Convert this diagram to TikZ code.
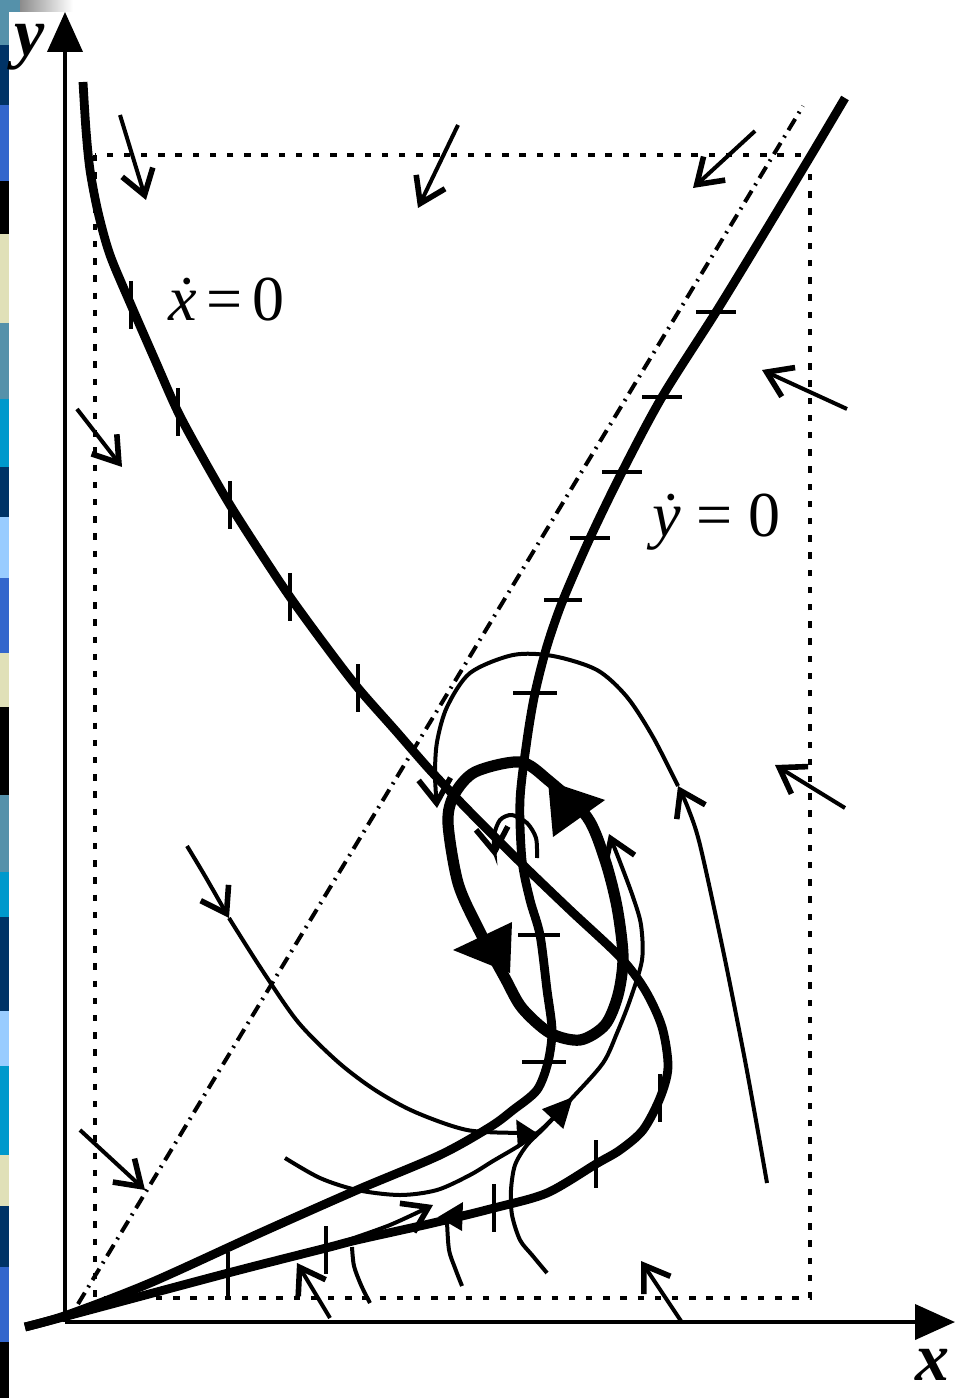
\documentclass[tikz,border=0pt]{standalone}
\usepackage{fontspec}
\setmainfont{Liberation Serif}
\usetikzlibrary{arrows.meta}
\definecolor{stripsteel}{HTML}{5591AA}
\definecolor{stripnavy}{HTML}{003366}
\definecolor{stripblue}{HTML}{3366CC}
\definecolor{stripsand}{HTML}{E0E0B8}
\definecolor{stripteal}{HTML}{0099CC}
\definecolor{stripsky}{HTML}{99CCFF}
\begin{document}
\begin{tikzpicture}[>={Straight Barb[length=6pt,width=8pt,line width=1.4pt]},
    x=0.25pt, y=-0.25pt, font=\fontsize{16}{19}\selectfont,
    nullcline/.style={line width=2.2pt, smooth},
    orbit/.style={line width=1pt, smooth},
    limitcycle/.style={line width=2.8pt, smooth cycle},
    tickline/.style={line width=1.2pt},
    field/.style={->, line width=1pt},
    axisarrow/.style={-{Triangle[length=10pt,width=8.75pt]}, line width=1pt},
    axislabel/.style={inner sep=0pt, font=\fontsize{17}{19}\selectfont\bfseries\itshape}]
    \useasboundingbox (0,0) rectangle (955,1398);
    \clip (0,0) rectangle (955,1398);
    \fill[white] (0,0) rectangle (955,1398);
    \foreach \ya/\yb/\c in {0/45/stripsteel, 45/105/stripnavy, 105/181/stripblue, 181/234/black,
        234/323/stripsand, 323/399/stripsteel, 399/467/stripteal, 467/517/stripnavy, 517/578/stripsky,
        578/653/stripblue, 653/707/stripsand, 707/795/black, 795/872/stripsteel, 872/917/stripteal,
        917/1011/stripnavy, 1011/1066/stripsky, 1066/1155/stripteal, 1155/1206/stripsand,
        1206/1267/stripnavy, 1267/1342/stripblue, 1342/1398/black}
        \fill[\c] (0,\ya) rectangle (9,\yb);
    \fill[stripsteel] (0,0) rectangle (20,12);
    \shade[left color=black!45, right color=white] (20,0) rectangle (73,12);
    \coordinate (O) at (65,1322);
    \draw[line width=1.2pt, dash pattern=on 1.6pt off 2.7pt] (95,155) rectangle (810,1298);
    \draw[line width=1pt, dash pattern=on 3.3pt off 1.6pt on 0.5pt off 1.6pt] (78,1304) -- (803,106);
    \draw[nullcline] plot coordinates {(83,82) (86,130) (90,170) (98,212) (110,255) (131,305) (155,360)
        (178,412) (204,460) (230,505) (260,552) (290,597) (325,645) (358,688) (395,730) (430,770)
        (470,812) (520,862) (570,910) (620,957) (645,990) (662,1027) (668,1067) (660,1098) (643,1130)
        (620,1150) (596,1164) (547,1193) (494,1208) (433,1223) (357,1240) (326,1248) (228,1273)
        (67,1316) (25,1327)};
    \draw[nullcline] plot coordinates {(845,98) (810,157) (760,240) (716,312) (662,397) (622,472)
        (590,538) (563,600) (547,646) (535,693) (527,740) (520,800) (522,860) (530,900) (540,935)
        (547,990) (552,1030) (548,1062) (537,1090) (513,1110) (490,1127) (440,1155) (357,1190)
        (260,1233) (150,1283) (67,1315) (25,1327)};
    \draw[tickline] (131,281) --++ (0,48) (178,388) --++ (0,48) (230,481) --++ (0,48)
        (290,573) --++ (0,48) (358,664) --++ (0,48) (660,1074) --++ (0,48) (596,1140) --++ (0,48)
        (494,1184) --++ (0,48) (326,1226) --++ (0,48) (228,1252) --++ (0,44);
    \draw[tickline] (696,312) --++ (40,0) (642,397) --++ (40,0) (602,472) --++ (40,0)
        (570,538) --++ (40,0) (544,600) --++ (38,0) (513,693) --++ (44,0) (518,935) --++ (42,0)
        (522,1062) --++ (44,0);
    \fill (463,1202) -- (438,1217) -- (462,1231) -- cycle;
    \draw[limitcycle] plot coordinates {(520,762) (548,780) (587,817) (605,860) (617,907) (623,957)
        (618,995) (605,1025) (580,1040) (550,1033) (522,1008) (505,978) (478,928) (458,883)
        (448,823) (454,795) (475,772)};
    \fill (548,781) -- (605,800) -- (553,837) -- cycle;
    \fill (512,922) -- (453,950) -- (510,973) -- cycle;
    \draw[orbit, ->] plot coordinates {(767,1183) (755,1115) (743,1050) (723,950) (700,845) (688,808) (678,786)};
    \draw[orbit, ->] plot coordinates {(678,786) (653,737) (627,697) (597,670) (553,656) (513,655)
        (470,673) (447,707) (437,742) (435,775) (437,808)};
    \draw[orbit, ->] plot coordinates {(537,858) (536,838) (527,823) (512,815) (500,820) (494,836) (495,857)};
    \draw[orbit, ->] plot coordinates {(187,846) (205,876) (229,918)};
    \draw[orbit, -{Triangle[length=5pt,width=7pt]}] plot coordinates {(229,918) (262,970) (298,1022)
        (338,1062) (375,1090) (415,1112) (467,1130) (520,1133) (537,1133)};
    \draw[orbit, ->] plot coordinates {(285,1158) (320,1178) (357,1190) (400,1195) (437,1190) (470,1175)
        (493,1161) (520,1145) (543,1128) (573,1097) (603,1063) (617,1033) (630,1000) (642,960)
        (641,925) (633,897) (620,862) (609,834)};
    \draw[orbit, -{Triangle[length=7.5pt,width=7pt]}] plot coordinates {(547,1273) (532,1255) (520,1240)
        (512,1215) (511,1190) (515,1165) (527,1145) (545,1127) (573,1097)};
    \draw[orbit] plot coordinates {(370,1303) (361,1285) (354,1266) (352,1247)};
    \draw[orbit] plot coordinates {(462,1286) (455,1268) (449,1250) (447,1222)};
    \draw[orbit, ->] plot coordinates {(345,1241) (390,1225) (433,1205)};
    \draw[field] (120,115) -- (146,200);
    \draw[field] (458,125) -- (418,208);
    \draw[field] (755,131) -- (693,188);
    \draw[field] (847,409) -- (762,370);
    \draw[field] (77,409) -- (122,467);
    \draw[field] (845,808) -- (775,765);
    \draw[field] (80,1130) -- (145,1190);
    \draw[field] (330,1318) -- (297,1263);
    \draw[field] (681,1321) -- (641,1261);
    \draw[axisarrow] (O) -- (65,12);
    \draw[axisarrow] (O) -- (955,1322);
    \node[anchor=base west] (xdot) at (154,321) {\textit{\.x}\kern2.5pt=\kern2.5pt0};
    \node[anchor=base west] (ydot) at (638,537) {\textit{\.y}\kern4pt=\kern4pt0};
    \node[axislabel, anchor=base west] (ylab) at (14,56) {y};
    \node[axislabel, anchor=base east] (xlab) at (950,1380) {x};
\end{tikzpicture}
\end{document}
